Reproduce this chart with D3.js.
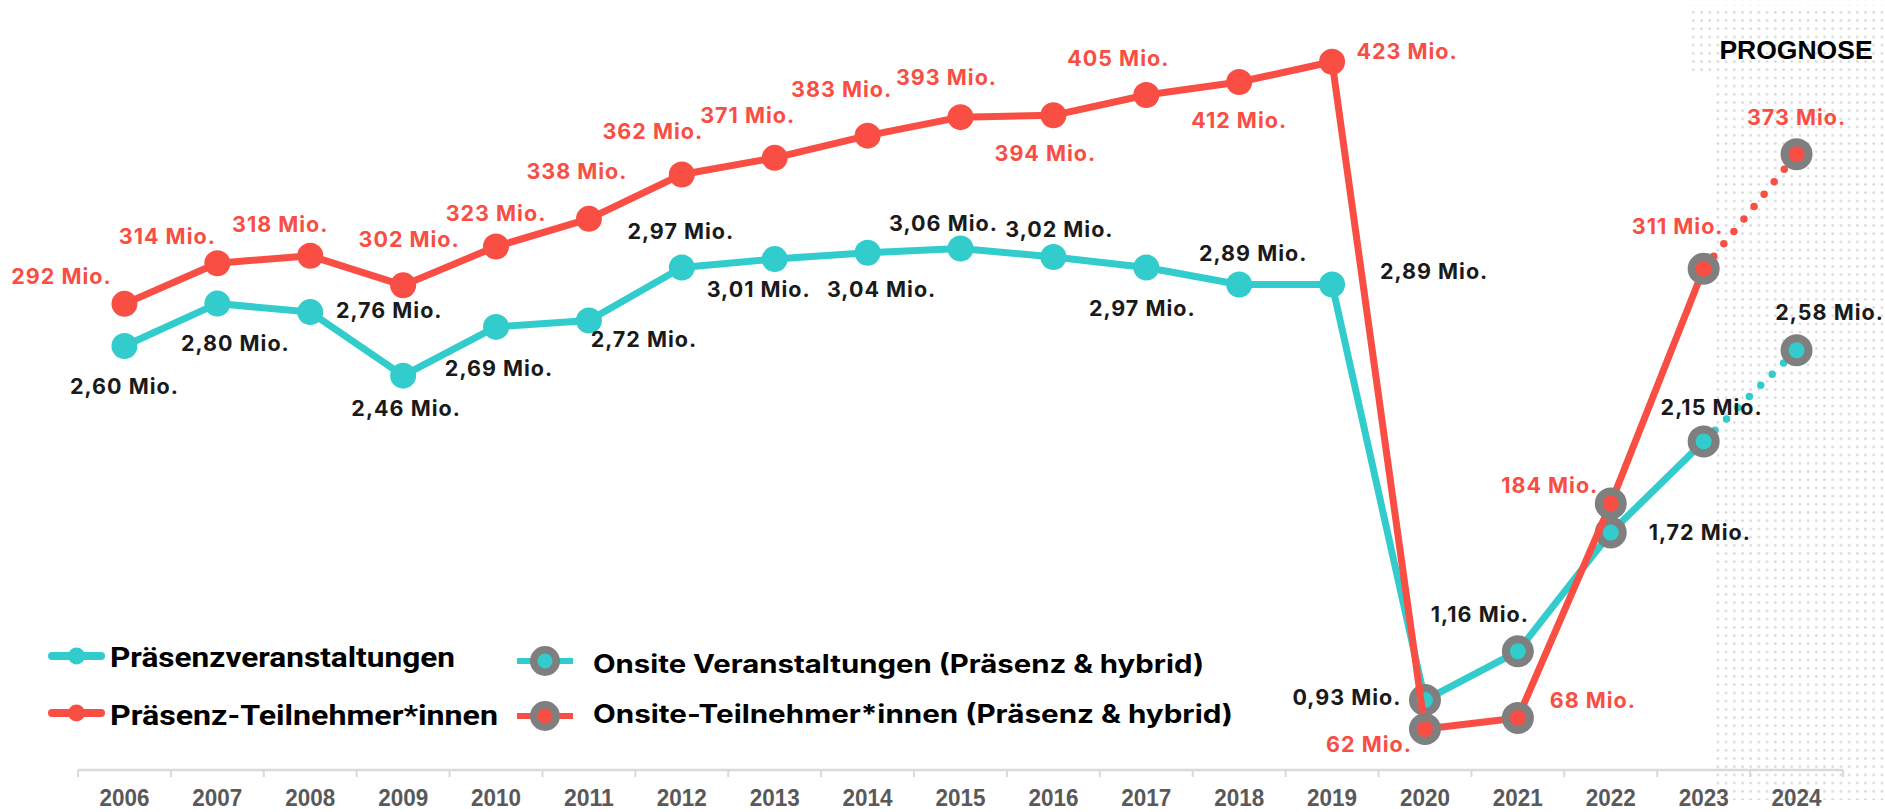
<!DOCTYPE html>
<html><head><meta charset="utf-8">
<script src="https://cdn.jsdelivr.net/npm/d3@7"></script>
<style>html,body{margin:0;padding:0;background:#fff;} svg{display:block;}</style>
</head><body><svg id="c" width="1885" height="812"></svg>
<script>
// ---------- DATA ----------
const years = [2006,2007,2008,2009,2010,2011,2012,2013,2014,2015,2016,2017,2018,2019,2020,2021,2022,2023,2024];
const veranstaltungen = [2.60,2.80,2.76,2.46,2.69,2.72,2.97,3.01,3.04,3.06,3.02,2.97,2.89,2.89,0.93,1.16,1.72,2.15,2.58]; // Mio.
const teilnehmer = [292,314,318,302,323,338,362,371,383,393,394,405,412,423,62,68,184,311,373]; // Mio.
const onsiteFrom = 2020;       // from here: onsite (Präsenz & hybrid)
const forecastYear = 2024;     // Prognose
const legendLabels = ["Präsenzveranstaltungen","Präsenz-Teilnehmer*innen","Onsite Veranstaltungen (Präsenz & hybrid)","Onsite-Teilnehmer*innen (Präsenz & hybrid)"];
const prognoseLabel = "PROGNOSE";

// ---------- LAYOUT / STYLE ----------
const RED = "#F94E44", TEAL = "#33CCCC", GRAY = "#7F7F7F";
const svg = d3.select("#c");
const x = d3.scaleBand().domain(years).range([78,1843]).padding(0);
const bw = x.bandwidth();
const cx = y => x(y) + bw/2;
const yRed = d3.scaleLinear().domain([0,450]).range([843.6,11.8]);
const yTeal = d3.scaleLinear().domain([0,3.5]).range([897.2,155.2]);

// label placement offsets (dx, dy relative to point; text centred)
const redOff = {2006:[-63,-28],2007:[-50,-27],2008:[-30,-31],2009:[6,-46],2010:[0,-33],2011:[-12,-48],2012:[-29,-43],2013:[-27,-43],2014:[-26,-46],2015:[-14,-40],2016:[-8,38],2017:[-28,-37],2018:[0,38],2019:[75,-10],2020:[-56,15],2021:[75,-18],2022:[-61,-18],2023:[-26,-42],2024:[0,-37]};
const tealOff = {2006:[0,40],2007:[18,40],2008:[79,-2],2009:[3,33],2010:[3,41],2011:[55,19],2012:[-1,-36],2013:[-16,30],2014:[14,37],2015:[-17,-25],2016:[6,-28],2017:[-4,41],2018:[14,-31],2019:[102,-13],2020:[-78,-3],2021:[-38,-37],2022:[89,0],2023:[8,-34],2024:[33,-38]};

// dotted Prognose background
const defs = svg.append("defs");
const pat = defs.append("pattern").attr("id","dots").attr("patternUnits","userSpaceOnUse").attr("width",8.2).attr("height",8.2);
pat.append("rect").attr("x",3).attr("y",3).attr("width",2.2).attr("height",2.2).attr("fill","#d2d2d2");
const px = cx(2023) + 9;
svg.append("rect").attr("x",px-21).attr("y",5).attr("width",1885-(px-21)).attr("height",68).attr("fill","url(#dots)");
svg.append("rect").attr("x",px).attr("y",73).attr("width",1885-px).attr("height",727).attr("fill","url(#dots)");
svg.append("text").attr("x",1796).attr("y",59).attr("text-anchor","middle")
  .attr("font-family","Liberation Sans, Arial, sans-serif").attr("font-weight","bold").attr("font-size",26.5)
  .attr("fill","#000").text(prognoseLabel);

// axis
const axisY = 770;
svg.append("line").attr("x1",x.range()[0]).attr("x2",x.range()[1]).attr("y1",axisY).attr("y2",axisY)
  .attr("stroke","#d9d9d9").attr("stroke-width",2.5);
const bounds = years.map(y=>x(y)).concat([x.range()[1]]);
svg.selectAll(".tk").data(bounds).join("line").attr("class","tk")
  .attr("x1",d=>d).attr("x2",d=>d).attr("y1",axisY).attr("y2",axisY+7)
  .attr("stroke","#d9d9d9").attr("stroke-width",2);
const gx = svg.append("g").attr("transform",`translate(0,${axisY})`).call(d3.axisBottom(x).tickSize(0));
gx.select(".domain").remove();
gx.selectAll("text").attr("y",35.5).attr("dy",0)
  .attr("font-family","Liberation Sans, Arial, sans-serif").attr("font-weight","bold").attr("font-size",24)
  .attr("textLength",50).attr("lengthAdjust","spacingAndGlyphs").attr("fill","#595959");

// series
const fmtT = v => d3.format(".2f")(v).replace(".",",") + " Mio.";
const fmtR = v => v + " Mio.";
const series = [
  {vals: veranstaltungen, y: yTeal, color: TEAL, off: tealOff, fmt: fmtT, txt: "#1a1a1a"},
  {vals: teilnehmer, y: yRed, color: RED, off: redOff, fmt: fmtR, txt: RED}
];
series.forEach(s => {
  const pts = years.map((yr,i)=>({yr, v:s.vals[i]}));
  const line = d3.line().x(d=>cx(d.yr)).y(d=>s.y(d.v));
  const solid = pts.filter(d=>d.yr < forecastYear);
  const dotted = pts.filter(d=>d.yr >= forecastYear-1);
  svg.append("path").attr("d",line(solid)).attr("fill","none").attr("stroke",s.color)
    .attr("stroke-width",7).attr("stroke-linejoin","round");
  svg.append("path").attr("d",line(dotted)).attr("fill","none").attr("stroke",s.color)
    .attr("stroke-width",7.5).attr("stroke-linecap","round").attr("stroke-dasharray","0 16");
  const g = svg.append("g");
  g.selectAll("circle").data(pts).join("circle")
    .attr("cx",d=>cx(d.yr)).attr("cy",d=>s.y(d.v))
    .attr("r",d=>d.yr>=onsiteFrom?12:13)
    .attr("fill",s.color)
    .attr("stroke",d=>d.yr>=onsiteFrom?GRAY:"none")
    .attr("stroke-width",d=>d.yr>=onsiteFrom?8:0);
  g.selectAll("text").data(pts).join("text")
    .attr("x",d=>cx(d.yr)+s.off[d.yr][0]).attr("y",d=>s.y(d.v)+s.off[d.yr][1]+7.7)
    .attr("text-anchor","middle")
    .attr("font-family","Inter, 'Noto Sans', sans-serif").attr("font-weight",700).attr("font-size",21.5)
    .attr("letter-spacing",1.0).attr("fill",s.txt).text(d=>s.fmt(d.v));
});

// legend
const lg = svg.append("g");
const leg1 = [{c:TEAL,y:656,t:legendLabels[0],w:345,ty:667},{c:RED,y:713,t:legendLabels[1],w:388,ty:725}];
leg1.forEach(d=>{
  lg.append("line").attr("x1",52).attr("x2",101).attr("y1",d.y).attr("y2",d.y).attr("stroke",d.c).attr("stroke-width",8).attr("stroke-linecap","round");
  lg.append("circle").attr("cx",76.5).attr("cy",d.y).attr("r",8.5).attr("fill",d.c);
  lg.append("text").attr("x",110).attr("y",d.ty).attr("font-family","Roboto, sans-serif").attr("font-weight",700)
    .attr("font-size",27).attr("textLength",d.w).attr("lengthAdjust","spacingAndGlyphs").attr("fill","#000").text(d.t);
});
const leg2 = [{c:TEAL,y:661,t:legendLabels[2],w:611,ty:673},{c:RED,y:716,t:legendLabels[3],w:640,ty:723}];
leg2.forEach(d=>{
  lg.append("line").attr("x1",517).attr("x2",573).attr("y1",d.y).attr("y2",d.y).attr("stroke",d.c).attr("stroke-width",6);
  lg.append("circle").attr("cx",545).attr("cy",d.y).attr("r",11.25).attr("fill",d.c).attr("stroke",GRAY).attr("stroke-width",7.5);
  lg.append("text").attr("x",593).attr("y",d.ty).attr("font-family","Inter, sans-serif").attr("font-weight",700)
    .attr("font-size",25.5).attr("textLength",d.w).attr("lengthAdjust","spacingAndGlyphs").attr("fill","#000").text(d.t);
});
</script></body></html>
